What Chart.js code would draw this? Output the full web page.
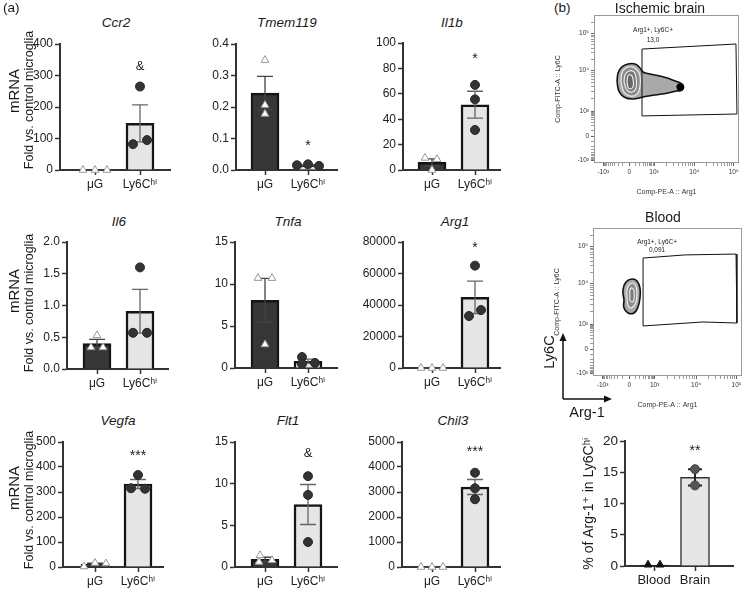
<!DOCTYPE html>
<html><head><meta charset="utf-8">
<script src="https://cdn.jsdelivr.net/npm/chart.js@4.4.1/dist/chart.umd.min.js"></script>
<style>
body{margin:0;background:#fff;width:747px;height:591px;position:relative;overflow:hidden;font-family:'Liberation Sans','DejaVu Sans',Arial,sans-serif;}
canvas{position:absolute;}
.t{position:absolute;white-space:nowrap;color:#1a1a1a;line-height:1;}
.r{transform:translate(-50%,-50%) rotate(-90deg);}
.c{transform:translate(-50%,-50%);}
</style></head><body>
<script>
// ---------------- DATA ----------------
const groups = ['μG', 'Ly6Cʰⁱ'];
const genes = ['Ccr2','Tmem119','Il1b','Il6','Tnfa','Arg1','Vegfa','Flt1','Chil3'];
const yMax  = [400, 0.4, 100, 2, 15, 80000, 500, 15, 5000];
const yStep = [100, 0.1, 20, 0.5, 5, 20000, 100, 5, 1000];
const meanMG = [0.5, 0.244, 6, 0.40, 8.07, 20, 10.7, 0.93, 1];
const meanLy = [148, 0.0153, 51.4, 0.91, 0.8, 44900, 332, 7.5, 3200];
const semMG  = [0.3, 0.053, 2.8, 0.065, 2.6, 5, 4.3, 0.24, 0.5];
const semLy  = [59, 0.0015, 10.6, 0.345, 0.25, 10300, 18, 2.4, 300];
const ptsMG = [[0,0,0],[0.349,0.206,0.178],[9.5,8.5,0],[0.53,0.34,0.34],[10.7,10.7,2.8],[0,0,0],[2,16,14],[1.4,0.6,0.8],[0,0,0]];
const ptsLy = [[265,82,95],[0.015,0.018,0.013],[67,55.6,31.5],[1.6,0.57,0.57],[1.3,0.5,0.6],[65000,33000,36800],[368,315,313],[10.9,8.65,3.0],[3770,3150,2710]];
const sigText = ['&','*','*','','','*','***','&','***'];
const sigY = [328, 0.086, 90, null, null, 78000, 455, 13.6, 4720];

// panel b bar chart
const groups2 = ['Blood','Brain'];
const mean2 = [0.15, 14.2];
const sem2 = [0, 1.3];
const pts2 = [[0.2,0.2],[15.5,12.9]];

// flow cytometry (display channel units 0-1000)
const flowTitles = ['Ischemic brain','Blood'];
const gateLabel = 'Arg1+, Ly6C+';
const gatePct = ['13,0','0,091'];
const xTickLabels = ['-10³','0','10³','10⁴','10⁵'];
const xTickValues = [-1000,0,1000,1e4,1e5];
const yTickLabels = ['-10³','0','10³','10⁴','10⁵'];
const yTickValues = [-1000,0,1000,1e4,1e5];
const gateBrain = [[331,770],[979,804],[986,331],[331,318],[331,770]];
const gateBlood = [[336,797],[617,818],[960,824],[966,358],[738,365],[336,338],[336,797]];
const brainC0 = [[159,547],[166,608],[193,649],[234,669],[283,669],[317,642],[338,615],[386,601],[455,588],[524,568],[579,547],[614,527],[607,493],[566,486],[510,473],[421,459],[338,446],[269,432],[207,446],[172,486]];
const brainC1 = [[186,547],[193,608],[221,642],[262,649],[297,628],[317,588],[317,520],[297,466],[248,453],[207,480]];
const brainC2 = [[207,547],[214,595],[241,622],[276,615],[290,574],[290,507],[262,480],[228,493]];
const brainC3 = [[228,547],[234,588],[255,595],[269,568],[269,514],[248,500],[234,514]];
const brainTail = [[593,514]];
const bloodC0 = [[208,514],[201,581],[221,635],[262,655],[295,642],[315,595],[315,527],[302,466],[275,426],[235,426],[208,459]];
const bloodC1 = [[228,527],[228,581],[242,615],[268,628],[289,601],[295,541],[282,486],[255,459],[235,480]];
const bloodC2 = [[248,541],[248,581],[262,595],[275,574],[275,520],[262,500],[248,514]];

// ---------------- LAYOUT ----------------
const FONT = "'Liberation Sans','DejaVu Sans',Arial,sans-serif";
const layoutA = [
 {ax:60, ty:44, zy:170, xe:170, c0:95, c1:140},
 {ax:236,ty:44, zy:170, xe:337, c0:265,c1:308},
 {ax:403,ty:43, zy:170, xe:500, c0:432,c1:475},
 {ax:67, ty:242,zy:369, xe:168, c0:97, c1:140},
 {ax:235,ty:242,zy:368, xe:337, c0:265,c1:308},
 {ax:403,ty:242,zy:368, xe:500, c0:432,c1:475},
 {ax:63, ty:442,zy:567, xe:163, c0:95, c1:138},
 {ax:235,ty:442,zy:567, xe:337, c0:265,c1:308},
 {ax:402,ty:442,zy:567, xe:500, c0:432,c1:475}
];
const titlePos = [[116,23],[287,23],[452,23],[119,222],[288,222],[455,222],[118,421],[288,421],[453,421]];
const jitMG = [[-12,0,12],[0,0,0],[-7,5,0],[0,-6,6],[-7,7,0],[-11,0,11],[-11,0,11],[-5,-6,7],[-11,0,11]];
const jitLy = [[0,-7,7],[-11,0,11],[0,0,0],[0,-7,7],[-6,-6,7],[0,-6,6],[0,-7,7],[0,0,0],[0,0,0]];

function addText(txt, x, y, size, cls, extra){
  const d=document.createElement('div'); d.className='t '+cls; d.textContent=txt;
  d.style.left=x+'px'; d.style.top=y+'px'; d.style.fontSize=size+'px';
  if(extra) Object.assign(d.style, extra);
  document.body.appendChild(d); return d;
}
function makeCanvas(l,t,w,h){
  const c=document.createElement('canvas'); c.width=w; c.height=h;
  c.style.left=l+'px'; c.style.top=t+'px'; c.style.width=w+'px'; c.style.height=h+'px';
  document.body.appendChild(c); return c;
}

const errPlugin = {
  id:'errbars',
  afterDatasetDraw(chart, args){
    if(args.index!==0) return;
    const o = chart.options.plugins.errbars; if(!o || !o.bars) return;
    const ctx=chart.ctx, xs=chart.scales.x, ys=chart.scales.y;
    o.bars.forEach(b=>{
      const x=xs.getPixelForValue(b.x), yT=ys.getPixelForValue(b.hi), yB=ys.getPixelForValue(Math.max(b.lo,0));
      ctx.save(); ctx.strokeStyle=b.color; ctx.lineWidth=b.lw; ctx.beginPath();
      ctx.moveTo(x,yT); ctx.lineTo(x,yB);
      ctx.moveTo(x-b.cap,yT); ctx.lineTo(x+b.cap,yT);
      ctx.moveTo(x-b.cap,yB); ctx.lineTo(x+b.cap,yB);
      ctx.stroke(); ctx.restore();
    });
  }
};
const sigPlugin = {
  id:'sig',
  afterDraw(chart){
    const o=chart.options.plugins.sig; if(!o || !o.text) return;
    const ctx=chart.ctx; const x=chart.scales.x.getPixelForValue(o.x), y=chart.scales.y.getPixelForValue(o.y);
    ctx.save(); ctx.fillStyle='#222'; ctx.textAlign='center'; ctx.textBaseline='middle';
    ctx.font=(o.text==='&'?'13px ':'14px ')+FONT;
    ctx.fillText(o.text, x, y + (o.text==='&'?0:3)); ctx.restore();
  }
};

const WY=58, HX=28, PT=10, PR=6;
function axisCommon(){
  return {
    offset:false,
    grid:{display:true, drawOnChartArea:false, drawTicks:true, tickLength:5, tickWidth:1.5, tickColor:'#333', offset:false},
    border:{display:true, color:'#333', width:2},
  };
}

genes.forEach((g,i)=>{
  const L=layoutA[i];
  const sp=L.c1-L.c0;
  const xmin=-(L.c0-L.ax)/sp, xmax=1+(L.xe-L.c1)/sp;
  const w=WY+(L.xe-L.ax)+PR, h=PT+(L.zy-L.ty)+HX;
  const cv=makeCanvas(L.ax-WY, L.ty-PT, w, h);
  const dec = yStep[i]<1 ? 1 : 0;
  new Chart(cv, {
    type:'bar',
    data:{datasets:[
      {type:'bar', order:2, data:[{x:0,y:meanMG[i]},{x:1,y:meanLy[i]}], backgroundColor:['#363636','#e6e6e6'], borderColor:'#151515', borderWidth:2.5, barThickness:28},
      {type:'scatter', order:0, clip:false, data:ptsMG[i].map((v,k)=>({x:jitMG[i][k]/sp, y:v})), pointStyle:'triangle', pointRadius:4.5, backgroundColor:'#ffffff', borderColor:'#999', borderWidth:1},
      {type:'scatter', order:0, clip:false, data:ptsLy[i].map((v,k)=>({x:1+jitLy[i][k]/sp, y:v})), pointStyle:'circle', pointRadius:4.5, backgroundColor:'#333', borderColor:'#2a2a2a', borderWidth:1}
    ]},
    options:{
      responsive:false, devicePixelRatio:1, animation:false, events:[],
      layout:{autoPadding:false, padding:{top:PT,right:PR,left:0,bottom:0}},
      plugins:{legend:{display:false}, tooltip:{enabled:false},
        errbars:{bars:[
          {x:0, hi:meanMG[i]+semMG[i], lo:meanMG[i]-semMG[i], color:'#444', lw:1.3, cap:8},
          {x:1, hi:meanLy[i]+semLy[i], lo:meanLy[i]-semLy[i], color:'#666', lw:1.3, cap:8}]},
        sig:{text:sigText[i], x:1, y:sigY[i]}
      },
      scales:{
        x:Object.assign(axisCommon(), {type:'linear', min:xmin, max:xmax,
          afterBuildTicks:s=>{s.ticks=[{value:0},{value:1}];},
          ticks:{callback:v=>groups[v], font:{family:FONT,size:12}, color:'#222', padding:2, autoSkip:false, maxRotation:0},
          afterFit:s=>{s.height=HX;}}),
        y:Object.assign(axisCommon(), {type:'linear', min:0, max:yMax[i],
          ticks:{stepSize:yStep[i], callback:v=>Number(v).toFixed(dec), font:{family:FONT,size:12}, color:'#222', padding:2},
          afterFit:s=>{s.width=WY;}})
      }
    },
    plugins:[errPlugin, sigPlugin]
  });
  addText(g, titlePos[i][0], titlePos[i][1], 13.5, 'c', {fontStyle:'italic'});
});

// row axis titles
[[91,100],[291,303],[488,500]].forEach(r=>{
  addText('mRNA', 13, r[0], 15, 'r');
  addText('Fold vs. control microglia', 29, r[1], 12.5, 'r');
});
addText('(a)', 3, 1, 13.5, '');
addText('(b)', 554, 1, 13.5, '');

// ---------------- FLOW PLOTS ----------------
function biex(v, P){
  if (v >= 1e4) return P.p4 + (P.p5-P.p4)*Math.log10(v/1e4);
  if (v >= 1000) return P.p3 + (P.p4-P.p3)*Math.log10(v/1000);
  const w=150, k=Math.asinh(1000/w);
  if (v >= 0) return P.z + (P.p3-P.z)*Math.asinh(v/w)/k;
  return P.z + (P.z-P.m3)*Math.asinh(v/w)/k;
}
const PX={m3:64,z:243,p3:414,p4:692,p5:963};
const PY={m3:18,z:182,p3:351,p4:624,p5:876};
function minorVals(){
  const a=[];
  for(let k=1;k<10;k++){a.push(-k*100); a.push(k*100);}
  for(let k=2;k<10;k++){a.push(k*1000); a.push(k*1e4);}
  a.push(2e5);
  return a;
}
function buildTicks(P, majV, majL){
  const t=[];
  majV.forEach((v,k)=>t.push({value:biex(v,P), lbl:majL[k], major:true}));
  minorVals().forEach(v=>{const u=biex(v,P); if(u>=0&&u<=1000) t.push({value:u, lbl:'', major:false});});
  t.sort((a,b)=>a.value-b.value);
  return t;
}
const framePlugin = {
  id:'frame',
  beforeDatasetsDraw(chart){
    const a=chart.chartArea, ctx=chart.ctx;
    ctx.save(); ctx.strokeStyle='#9a9a9a'; ctx.lineWidth=1; ctx.strokeRect(a.left+0.5,a.top+0.5,a.right-a.left-1,a.bottom-a.top-1); ctx.restore();
  },
  afterDraw(chart){
    const o=chart.options.plugins.frame; if(!o) return;
    const ctx=chart.ctx, xs=chart.scales.x, ys=chart.scales.y;
    ctx.save(); ctx.fillStyle='#222'; ctx.textAlign='center'; ctx.textBaseline='middle'; ctx.font='6.5px '+FONT;
    ctx.fillText(gateLabel, xs.getPixelForValue(o.lx), ys.getPixelForValue(o.ly1));
    ctx.fillText(o.pct, xs.getPixelForValue(o.lx), ys.getPixelForValue(o.ly2));
    ctx.restore();
  }
};
const flowLayout = [
  {L:594, T:15, W:145, H:148, title:[660,8], lx:407, ly1:899, ly2:831},
  {L:593, T:228, W:149, H:148, title:[663,217], lx:430, ly1:907, ly2:851}
];
const flowSets = [
  {gate:gateBrain, rings:[brainC0,brainC1,brainC2,brainC3], tail:brainTail},
  {gate:gateBlood, rings:[bloodC0,bloodC1,bloodC2], tail:[]}
];
const ringFill = ['#a9a9a9','#8c8c8c','#7a7a7a','#666'];
const ringLine = ['#111','#f2f2f2','#f2f2f2','#f2f2f2'];
const FY=46, FX=38, FP=6;
flowLayout.forEach((F,i)=>{
  const S=flowSets[i];
  const cv=makeCanvas(F.L-FY, F.T-FP, FY+F.W+FP, FP+F.H+FX);
  const ds=[];
  S.rings.forEach((r,k)=>{
    const pts=r.map(p=>({x:p[0],y:p[1]})); pts.push({x:r[0][0],y:r[0][1]});
    ds.push({type:'line', data:pts, borderColor:ringLine[k], borderWidth:k===0?1.6:1.1, backgroundColor:ringFill[k], fill:'shape', tension:0.45, pointRadius:0, order:10-k});
  });
  if(S.tail.length) ds.push({type:'scatter', data:S.tail.map(p=>({x:p[0],y:p[1]})), pointRadius:3.2, backgroundColor:'#000', borderColor:'#000', order:1});
  ds.push({type:'line', data:S.gate.map(p=>({x:p[0],y:p[1]})), borderColor:'#111', borderWidth:1, fill:false, tension:0, pointRadius:0, order:0});
  const xt=buildTicks(PX,xTickValues,xTickLabels), yt=buildTicks(PY,yTickValues,yTickLabels);
  const tickGrid = {display:true, drawOnChartArea:false, drawTicks:true, tickLength:3, tickColor:'#555', tickWidth:c=>(c.tick&&c.tick.major)?0.9:0.6};
  new Chart(cv,{
    type:'scatter',
    data:{datasets:ds},
    options:{
      responsive:false, devicePixelRatio:1, animation:false, events:[],
      layout:{autoPadding:false, padding:{top:FP,right:FP,left:0,bottom:0}},
      plugins:{legend:{display:false}, tooltip:{enabled:false}, frame:{lx:F.lx, ly1:F.ly1, ly2:F.ly2, pct:gatePct[i]}},
      scales:{
        x:{type:'linear', min:0, max:1000, afterBuildTicks:s=>{s.ticks=xt.map(o=>Object.assign({},o));},
          ticks:{autoSkip:false, maxRotation:0, callback:(v,k,t)=>t[k].lbl, font:{family:FONT,size:6.5}, color:'#333', padding:2},
          grid:tickGrid, border:{display:false},
          title:{display:true, text:'Comp-PE-A :: Arg1', font:{family:FONT,size:7}, color:'#333', padding:{top:0,bottom:5}},
          afterFit:s=>{s.height=FX;}},
        y:{type:'linear', min:0, max:1000, afterBuildTicks:s=>{s.ticks=yt.map(o=>Object.assign({},o));},
          ticks:{autoSkip:false, callback:(v,k,t)=>t[k].lbl, font:{family:FONT,size:6.5}, color:'#333', padding:2},
          grid:tickGrid, border:{display:false},
          title:{display:true, text:'Comp-FITC-A :: Ly6C', font:{family:FONT,size:7}, color:'#333', padding:{top:6,bottom:0}},
          afterFit:s=>{s.width=FY;}}
      }
    },
    plugins:[framePlugin]
  });
  addText(flowTitles[i], F.title[0], F.title[1], 14, 'c');
});

// orientation arrows
(function(){
  const ns='http://www.w3.org/2000/svg';
  const svg=document.createElementNS(ns,'svg');
  svg.setAttribute('width','80'); svg.setAttribute('height','80');
  svg.style.position='absolute'; svg.style.left='540px'; svg.style.top='325px';
  svg.innerHTML='<line x1="23" y1="74" x2="23" y2="14" stroke="#111" stroke-width="1.5"/>'+
    '<polygon points="23,8 19.5,16 26.5,16" fill="#111"/>'+
    '<line x1="23" y1="74" x2="66" y2="74" stroke="#111" stroke-width="1.5"/>'+
    '<polygon points="72,74 64,70.5 64,77.5" fill="#111"/>';
  document.body.appendChild(svg);
  addText('Ly6C', 549, 352, 14.5, 'r');
  addText('Arg-1', 587, 412, 14.5, 'c');
})();

// ---------------- PANEL b BAR CHART ----------------
(function(){
  const L={ax:625, ty:441, zy:566, xe:733, c0:654, c1:695};
  const W2=48, sp=L.c1-L.c0;
  const cv=makeCanvas(L.ax-W2, L.ty-PT, W2+(L.xe-L.ax)+PR, PT+(L.zy-L.ty)+HX);
  const jit=[[-6,6],[0,0]];
  new Chart(cv,{
    type:'bar',
    data:{datasets:[
      {type:'bar', order:2, data:[{x:0,y:mean2[0]},{x:1,y:mean2[1]}], backgroundColor:['#111','#e6e6e6'], borderColor:['#111','#333'], borderWidth:1.5, barThickness:29},
      {type:'scatter', order:0, clip:false, data:pts2[0].map((v,k)=>({x:jit[0][k]/sp,y:v})), pointStyle:'triangle', pointRadius:4.5, backgroundColor:'#111', borderColor:'#111'},
      {type:'scatter', order:0, clip:false, data:pts2[1].map((v,k)=>({x:1+jit[1][k]/sp,y:v})), pointStyle:'circle', pointRadius:4.5, backgroundColor:'#555', borderColor:'#444'}
    ]},
    options:{
      responsive:false, devicePixelRatio:1, animation:false, events:[],
      layout:{autoPadding:false, padding:{top:PT,right:PR,left:0,bottom:0}},
      plugins:{legend:{display:false}, tooltip:{enabled:false},
        errbars:{bars:[{x:1, hi:mean2[1]+sem2[1], lo:mean2[1]-sem2[1], color:'#222', lw:2, cap:7}]},
        sig:{text:'**', x:1, y:18.8}},
      scales:{
        x:Object.assign(axisCommon(), {type:'linear', min:-(L.c0-L.ax)/sp, max:1+(L.xe-L.c1)/sp,
          afterBuildTicks:s=>{s.ticks=[{value:0},{value:1}];},
          ticks:{callback:v=>groups2[v], font:{family:FONT,size:13}, color:'#222', padding:2, autoSkip:false, maxRotation:0},
          afterFit:s=>{s.height=HX;}}),
        y:Object.assign(axisCommon(), {type:'linear', min:0, max:20,
          ticks:{stepSize:5, font:{family:FONT,size:13.5}, color:'#222', padding:2},
          title:{display:true, text:'% of Arg-1⁺ in Ly6Cʰⁱ', font:{family:FONT,size:14}, color:'#1a1a1a', padding:{top:4,bottom:0}},
          afterFit:s=>{s.width=W2;}})
      }
    },
    plugins:[errPlugin, sigPlugin]
  });
})();
</script>
</body></html>
